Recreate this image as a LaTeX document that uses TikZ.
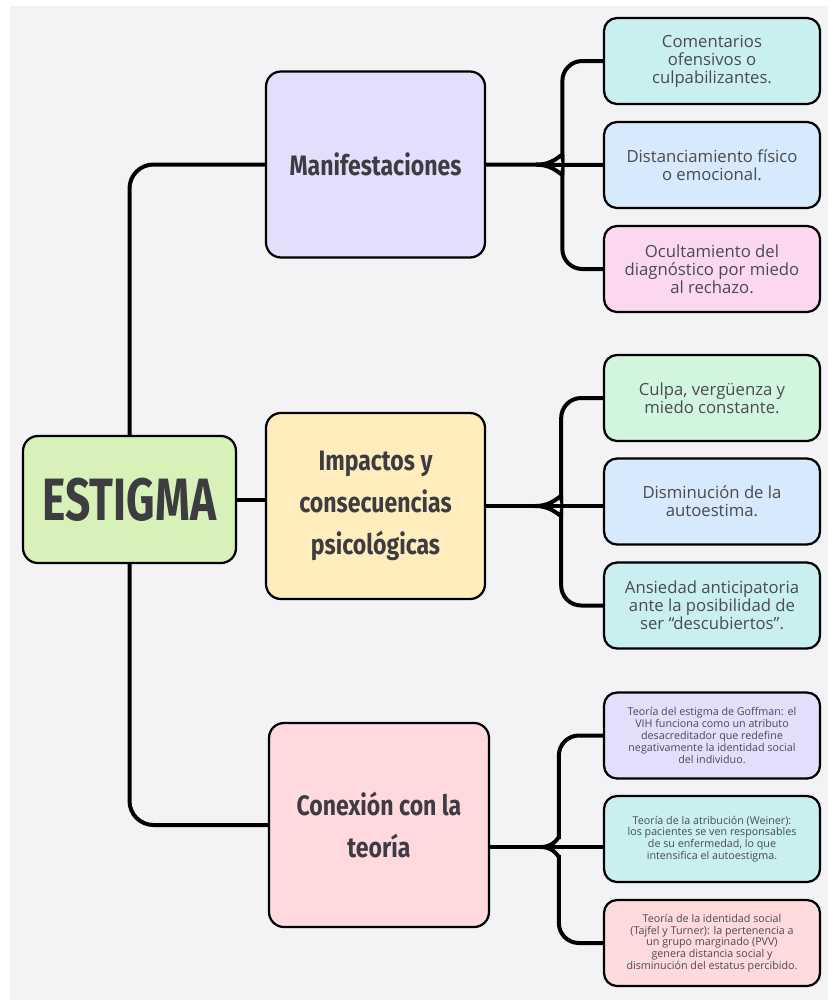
\documentclass[tikz,border=0pt]{standalone}
\usepackage{fontspec}
\setmainfont{Open Sans}
\newfontfamily\headfont[FakeStretch=0.82]{Fira Sans}
\newfontfamily\titlefont[FakeStretch=0.74]{Fira Sans}
\usetikzlibrary{calc}

\definecolor{paper}{HTML}{F3F2F5}
\definecolor{ink}{HTML}{3C3C41}
\definecolor{softink}{HTML}{4A4A50}
\definecolor{mint}{HTML}{D8F1B8}
\definecolor{lavender}{HTML}{E3DEFC}
\definecolor{butter}{HTML}{FFEDBD}
\definecolor{rose}{HTML}{FFD9DE}
\definecolor{aqua}{HTML}{C9EFF1}
\definecolor{sky}{HTML}{D7E9FC}
\definecolor{blush}{HTML}{FCD8F0}
\definecolor{leafgreen}{HTML}{D2F5DE}
\definecolor{salmon}{HTML}{FFDADD}

\tikzset{
  hub/.style={draw=black, line width=0.45mm, rounded corners=3mm, fill=mint,
    minimum width=42.6mm, minimum height=25.4mm, text=ink,
    font=\titlefont\bfseries\fontsize{34}{36}\selectfont},
  topic/.style={draw=black, line width=0.45mm, rounded corners=3mm,
    minimum width=43.8mm, minimum height=37.2mm, text=ink, align=center,
    font=\headfont\bfseries\fontsize{16}{24}\selectfont},
  leaf/.style={draw=black, line width=0.45mm, rounded corners=2.6mm,
    minimum width=43.2mm, minimum height=17.2mm, text=softink, align=center,
    font=\fontsize{9.5}{10.3}\selectfont},
  smallleaf/.style={leaf, font=\fontsize{6.1}{6.7}\selectfont},
  link/.style={draw=black, line width=0.8mm}
}

\begin{document}
\begin{tikzpicture}[x=0.2mm,y=-0.2mm]
  %%%%% BACKGROUND %%%%%
  \useasboundingbox (0,0) rectangle (828,1000);
  \fill[paper] (10,6) rectangle (828,1000);

  %%%%% NODES %%%%%
  \node[hub] (est) at (129.5,499.5) {ESTIGMA};

  \node[topic, fill=lavender] (man) at (375.5,164.5) {Manifestaciones};
  \node[topic, fill=butter] (imp) at (375.5,506) {Impactos y\\consecuencias\\psicológicas};
  \node[topic, fill=rose, minimum width=44mm, minimum height=40.8mm] (con) at (379,825) {Conexión con la\\teoría};

  \node[leaf, fill=aqua] (m1) at (712,61) {Comentarios\\ofensivos o\\culpabilizantes.};
  \node[leaf, fill=sky] (m2) at (712,165) {Distanciamiento físico\\o emocional.};
  \node[leaf, fill=blush] (m3) at (712,269) {Ocultamiento del\\diagnóstico por miedo\\al rechazo.};

  \node[leaf, fill=leafgreen] (i1) at (712,398) {Culpa, vergüenza y\\miedo constante.};
  \node[leaf, fill=sky] (i2) at (712,501.5) {Disminución de la\\autoestima.};
  \node[leaf, fill=aqua] (i3) at (712,605.5) {Ansiedad anticipatoria\\ante la posibilidad de\\ser “descubiertos”.};

  \node[smallleaf, fill=lavender] (c1) at (712,735.5) {Teoría del estigma de Goffman: el\\VIH funciona como un atributo\\desacreditador que redefine\\negativamente la identidad social\\del individuo.};
  \node[smallleaf, fill=aqua] (c2) at (712,839) {Teoría de la atribución (Weiner):\\los pacientes se ven responsables\\de su enfermedad, lo que\\intensifica el autoestigma.};
  \node[smallleaf, fill=salmon] (c3) at (712,943) {Teoría de la identidad social\\(Tajfel y Turner): la pertenencia a\\un grupo marginado (PVV)\\genera distancia social y\\disminución del estatus percibido.};

  %%%%% LEFT LINKS %%%%%
  \draw[link, rounded corners=4.8mm] (est.north) |- (man.west);
  \draw[link] (est.east) -- (est.east -| imp.west);
  \draw[link, rounded corners=4.8mm] (est.south) |- (con.west);

  %%%%% BRACES %%%%%
  \coordinate (jm) at ($(man.east)!0.43!(m2.west)$);
  \draw[link] (man.east) -- (m2.west);
  \draw[link, rounded corners=4mm] (jm) .. controls +(20,0) and +(0,14) .. ++(26,-28) |- (m1.west);
  \draw[link, rounded corners=4mm] (jm) .. controls +(20,0) and +(0,-14) .. ++(26,28) |- (m3.west);

  \coordinate (ji) at ($(imp.east)!0.42!(imp.east -| i2.west)$);
  \draw[link] (imp.east) -- (imp.east -| i2.west);
  \draw[link, rounded corners=4mm] (ji) .. controls +(20,0) and +(0,14) .. ++(26,-28) |- (i1.west);
  \draw[link, rounded corners=4mm] (ji) .. controls +(20,0) and +(0,-14) .. ++(26,28) |- (i3.west);

  \coordinate (cj) at ([yshift=-4.4mm]con.east);
  \coordinate (jc) at ($(cj)!0.45!(cj -| c2.west)$);
  \draw[link] (cj) -- (cj -| c2.west);
  \draw[link, rounded corners=4mm] (jc) .. controls +(16,0) and +(0,14) .. ++(18,-28) |- (c1.west);
  \draw[link, rounded corners=4mm] (jc) .. controls +(16,0) and +(0,-14) .. ++(18,28) |- (c3.west);
\end{tikzpicture}
\end{document}
